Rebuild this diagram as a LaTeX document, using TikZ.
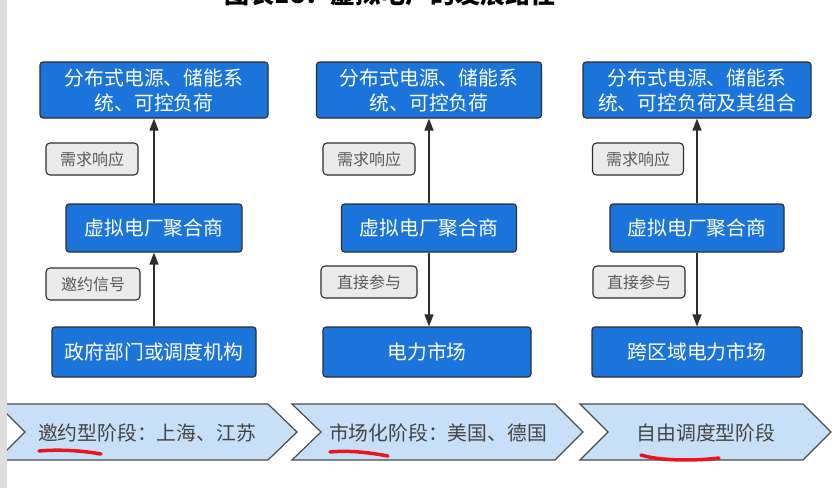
\documentclass[tikz,border=0pt]{standalone}
\usepackage{fontspec}
\setmainfont{Noto Sans CJK SC}
\usetikzlibrary{arrows.meta}
\definecolor{boxblue}{HTML}{1A74D9}
\definecolor{boxedge}{HTML}{2E2E2E}
\definecolor{tagfill}{HTML}{EBEBEB}
\definecolor{tagtext}{HTML}{5A5A5A}
\definecolor{chevfill}{HTML}{C8E0F7}
\definecolor{chevedge}{HTML}{4A4A4A}
\definecolor{chevtext}{HTML}{444444}
\definecolor{stripgray}{HTML}{DEDEDE}
\definecolor{markred}{HTML}{E8141E}
\tikzset{
  bluebox/.style={draw=boxedge, line width=1.1pt, fill=boxblue, rounded corners=3pt,
    text=white, font=\fontsize{19.8}{25}\selectfont, align=center, inner sep=0pt},
  tagbox/.style={draw=boxedge, line width=1.1pt, fill=tagfill, rounded corners=4pt,
    text=tagtext, font=\fontsize{16}{18}\selectfont, minimum height=32pt, inner sep=0pt},
  chevron/.style={draw=chevedge, line width=1.2pt, fill=chevfill, line join=miter},
  chevlabel/.style={text=chevtext, font=\fontsize{19.8}{22}\selectfont, inner sep=0pt},
  flow/.style={draw=boxedge, line width=1.3pt, -{Triangle[length=12pt,width=9pt]}},
  redmark/.style={draw=markred, line width=3.5pt, line cap=round}
}
\begin{document}
\begin{tikzpicture}[x=1pt,y=-1pt]
\useasboundingbox (0,0) rectangle (838,488);
\clip (0,0) rectangle (838,488);
\fill[white] (0,0) rectangle (838,488);
% clipped title
\node[anchor=south, font=\bfseries\fontsize{25}{28}\selectfont, text=black, inner sep=0pt] (title) at (390,6) {图表18：虚拟电厂的发展路径};
% column 1
\node[bluebox, minimum width=228pt, minimum height=56pt] (t1) at (154,90) {分布式电源、储能系\\统、可控负荷};
\node[bluebox, minimum width=176pt, minimum height=48pt] (m1) at (154,228) {虚拟电厂聚合商};
\node[bluebox, minimum width=204pt, minimum height=50pt] (b1) at (154,352) {政府部门或调度机构};
\node[tagbox, minimum width=92pt] (l1a) at (92,159) {需求响应};
\node[tagbox, minimum width=94pt] (l1b) at (93,284) {邀约信号};
\draw[flow] (m1.north) -- (t1.south);
\draw[flow] (b1.north) -- (m1.south);
% column 2
\node[bluebox, minimum width=225pt, minimum height=56pt] (t2) at (429,90) {分布式电源、储能系\\统、可控负荷};
\node[bluebox, minimum width=175pt, minimum height=48pt] (m2) at (429,228) {虚拟电厂聚合商};
\node[bluebox, minimum width=208pt, minimum height=50pt] (b2) at (427,352) {电力市场};
\node[tagbox, minimum width=92pt] (l2a) at (369,159) {需求响应};
\node[tagbox, minimum width=96pt] (l2b) at (369,282) {直接参与};
\draw[flow] (m2.north) -- (t2.south);
\draw[flow] (m2.south) -- (b2.north -| m2.south);
% column 3
\node[bluebox, minimum width=228pt, minimum height=56pt] (t3) at (697,90) {分布式电源、储能系\\统、可控负荷及其组合};
\node[bluebox, minimum width=174pt, minimum height=48pt] (m3) at (697,228) {虚拟电厂聚合商};
\node[bluebox, minimum width=210pt, minimum height=50pt] (b3) at (697,352) {跨区域电力市场};
\node[tagbox, minimum width=91pt] (l3a) at (638,159) {需求响应};
\node[tagbox, minimum width=92pt] (l3b) at (639,282) {直接参与};
\draw[flow] (m3.north) -- (t3.south);
\draw[flow] (m3.south) -- (b3.north);
% chevrons
\draw[chevron] (-3,404) -- (268,404) -- (297,432) -- (268,460) -- (-3,460) -- (25,432) -- cycle;
\draw[chevron] (292,404) -- (555,404) -- (583,432) -- (555,460) -- (292,460) -- (321,432) -- cycle;
\draw[chevron] (580,404) -- (803,404) -- (831,432) -- (803,460) -- (580,460) -- (608,432) -- cycle;
\node[chevlabel] (s1) at (147,433) {邀约型阶段：上海、江苏};
\node[chevlabel] (s2) at (438,433) {市场化阶段：美国、德国};
\node[chevlabel] (s3) at (706,433) {自由调度型阶段};
% red hand marks
\draw[redmark] (39,451) .. controls (60,449) and (85,451) .. (101,454);
\draw[redmark] (330,452) .. controls (350,450) and (372,453) .. (388,456);
\draw[redmark] (641,455) .. controls (660,461) and (695,461) .. (719,458);
% left strip
\fill[stripgray] (0,0) rectangle (7,488);
\end{tikzpicture}
\end{document}
